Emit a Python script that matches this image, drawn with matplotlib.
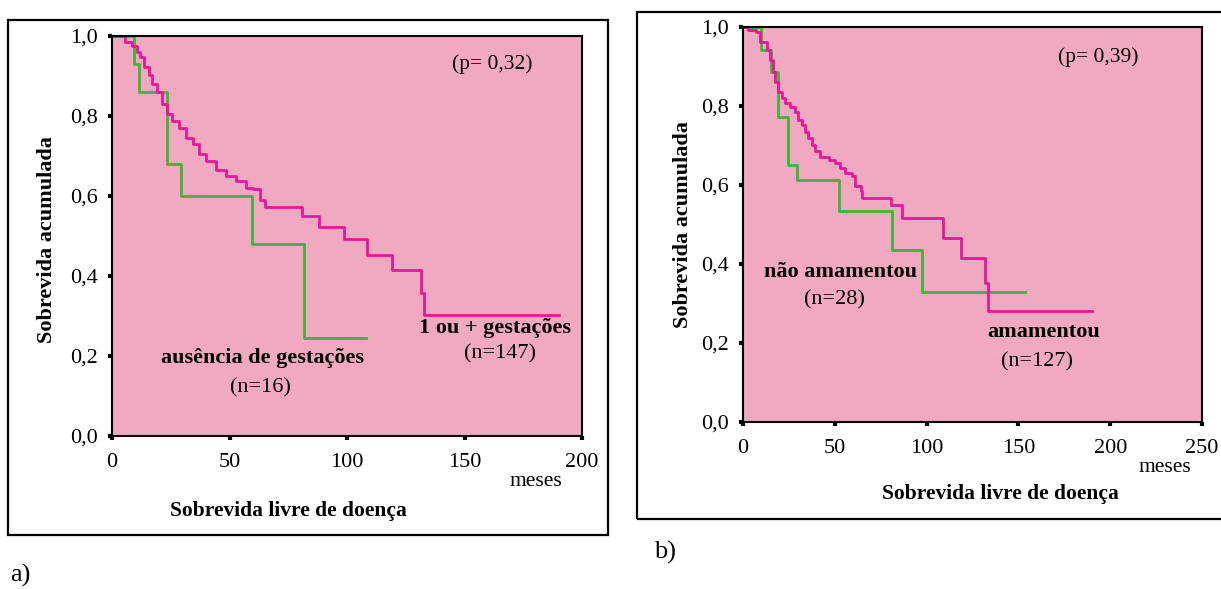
import matplotlib
matplotlib.use("Agg")
import matplotlib.pyplot as plt
from matplotlib.patches import Rectangle

plt.rcParams['font.family'] = ['Liberation Serif', 'DejaVu Serif']

# ---------------- data ----------------
# panel a) gestações
green_a_t = [0, 9.3, 11.5, 23.5, 29.5, 59.5, 81.5, 108]
green_a_s = [1.0, 0.93, 0.86, 0.68, 0.60, 0.48, 0.245, 0.245]

mag_a_t = [0, 5.7, 8.6, 10.7, 12.1, 13.6, 15.7, 17.1, 19.3, 21.4, 23.6, 25.7, 28.6,
           31.4, 34.3, 37.1, 40.0, 44.3, 48.6, 52.9, 57.1, 60.0, 62.9, 65.0, 80.7,
           87.9, 98.6, 108.6, 119.3, 131.4, 132.9, 190]
mag_a_s = [1.0, 0.986, 0.974, 0.961, 0.948, 0.923, 0.902, 0.880, 0.859, 0.830, 0.805,
           0.788, 0.771, 0.745, 0.729, 0.704, 0.688, 0.664, 0.650, 0.638, 0.620, 0.617,
           0.591, 0.573, 0.549, 0.523, 0.492, 0.453, 0.414, 0.358, 0.303, 0.303]

# panel b) amamentação
green_b_t = [0, 10, 15.5, 18.8, 24.3, 29.3, 52.1, 81.4, 97.4, 153.6]
green_b_s = [1.0, 0.941, 0.887, 0.773, 0.651, 0.612, 0.535, 0.435, 0.328, 0.328]

mag_b_t = [0, 2.7, 7.3, 9.1, 12.8, 14.6, 16.5, 17.4, 19.2, 21.0, 22.9, 25.6, 28.3,
           30.2, 32.0, 33.8, 35.6, 37.5, 39.3, 42.0, 46.6, 50.3, 53.0, 55.8, 59.4,
           61.2, 64.0, 64.9, 80.4, 86.8, 108.8, 118.8, 131.6, 133.5, 190.1]
mag_b_s = [1.0, 0.992, 0.987, 0.962, 0.941, 0.916, 0.887, 0.861, 0.836, 0.819, 0.807,
           0.798, 0.786, 0.765, 0.752, 0.735, 0.718, 0.702, 0.685, 0.672, 0.664, 0.655,
           0.643, 0.630, 0.622, 0.597, 0.584, 0.567, 0.550, 0.517, 0.466, 0.416, 0.353,
           0.282, 0.282]

y_ticks = [0.0, 0.2, 0.4, 0.6, 0.8, 1.0]
y_ticklabels = ["0,0", "0,2", "0,4", "0,6", "0,8", "1,0"]
x_ticks_a = [0, 50, 100, 150, 200]
x_ticks_b = [0, 50, 100, 150, 200, 250]

PINK = "#F1A9C1"
MAGENTA = "#E6189A"
GREEN = "#3DB535"

FS_TICK = 16
FS_TXT = 16

W, H = 1221, 589
fig = plt.figure(figsize=(W / 100, H / 100), dpi=100)


def fx(px):
    return px / W


def fy(py):
    return 1 - py / H


def make_axes(x0, x1, y0, y1, xmax, xticks):
    ax = fig.add_axes([fx(x0), fy(y1), fx(x1 - x0), (y1 - y0) / H])
    ax.set_facecolor(PINK)
    ax.set_xlim(0, xmax)
    ax.set_ylim(0, 1)
    ax.set_xticks(xticks)
    ax.set_xticklabels([str(t) for t in xticks], fontsize=FS_TICK)
    ax.set_yticks(y_ticks)
    ax.set_yticklabels(y_ticklabels, fontsize=FS_TICK)
    ax.tick_params(direction='out', length=3, width=3, color='black')
    ax.tick_params(axis='x', pad=9)
    ax.tick_params(axis='y', pad=7)
    for s in ax.spines.values():
        s.set_linewidth(1.5)
        s.set_color('black')
    return ax


# outer frames
fig.patches.append(Rectangle((fx(8), fy(535)), fx(600), (535 - 20) / H, fill=False,
                             lw=1.6, ec='black', transform=fig.transFigure, figure=fig))
fig.patches.append(Rectangle((fx(637), fy(519)), fx(600), (519 - 12) / H, fill=False,
                             lw=1.6, ec='black', transform=fig.transFigure, figure=fig))

# ---- panel a ----
axa = make_axes(112, 582, 36, 436, 200, x_ticks_a)
axa.step(green_a_t, green_a_s, where='post', color=GREEN, lw=2)
axa.step(mag_a_t, mag_a_s, where='post', color=MAGENTA, lw=2)
axa.text(0.81, 0.93, "(p= 0,32)", transform=axa.transAxes, fontsize=15.5, ha='center', va='center')
axa.text(163, 0.27, "1 ou + gestações", fontsize=FS_TXT, fontweight='bold', ha='center', va='center')
axa.text(165, 0.205, "(n=147)", fontsize=FS_TXT, ha='center', va='center')
axa.text(64, 0.195, "ausência de gestações", fontsize=FS_TXT, fontweight='bold', ha='center', va='center')
axa.text(63, 0.12, "(n=16)", fontsize=FS_TXT, ha='center', va='center')
fig.text(fx(47), fy(240), "Sobrevida acumulada", rotation=90, fontsize=16, fontweight='bold',
         ha='center', va='center')
fig.text(fx(288), fy(511), "Sobrevida livre de doença", fontsize=15.5, fontweight='bold',
         ha='center', va='center')
fig.text(fx(536), fy(481), "meses", fontsize=15.5, ha='center', va='center')
fig.text(fx(20), fy(575), "a)", fontsize=19, ha='center', va='center')

# ---- panel b ----
axb = make_axes(743, 1202, 27, 422, 250, x_ticks_b)
axb.step(green_b_t, green_b_s, where='post', color=GREEN, lw=2)
axb.step(mag_b_t, mag_b_s, where='post', color=MAGENTA, lw=2)
axb.text(0.773, 0.924, "(p= 0,39)", transform=axb.transAxes, fontsize=15.5, ha='center', va='center')
axb.text(53, 0.38, "não amamentou", fontsize=FS_TXT, fontweight='bold', ha='center', va='center')
axb.text(50, 0.309, "(n=28)", fontsize=FS_TXT, ha='center', va='center')
axb.text(164, 0.228, "amamentou", fontsize=FS_TXT, fontweight='bold', ha='center', va='center')
axb.text(160, 0.152, "(n=127)", fontsize=FS_TXT, ha='center', va='center')
fig.text(fx(683), fy(225), "Sobrevida acumulada", rotation=90, fontsize=16, fontweight='bold',
         ha='center', va='center')
fig.text(fx(1000), fy(494), "Sobrevida livre de doença", fontsize=15.5, fontweight='bold',
         ha='center', va='center')
fig.text(fx(1165), fy(468), "meses", fontsize=15.5, ha='center', va='center')
fig.text(fx(665), fy(552), "b)", fontsize=19, ha='center', va='center')

fig.savefig("out.png", dpi=100)
